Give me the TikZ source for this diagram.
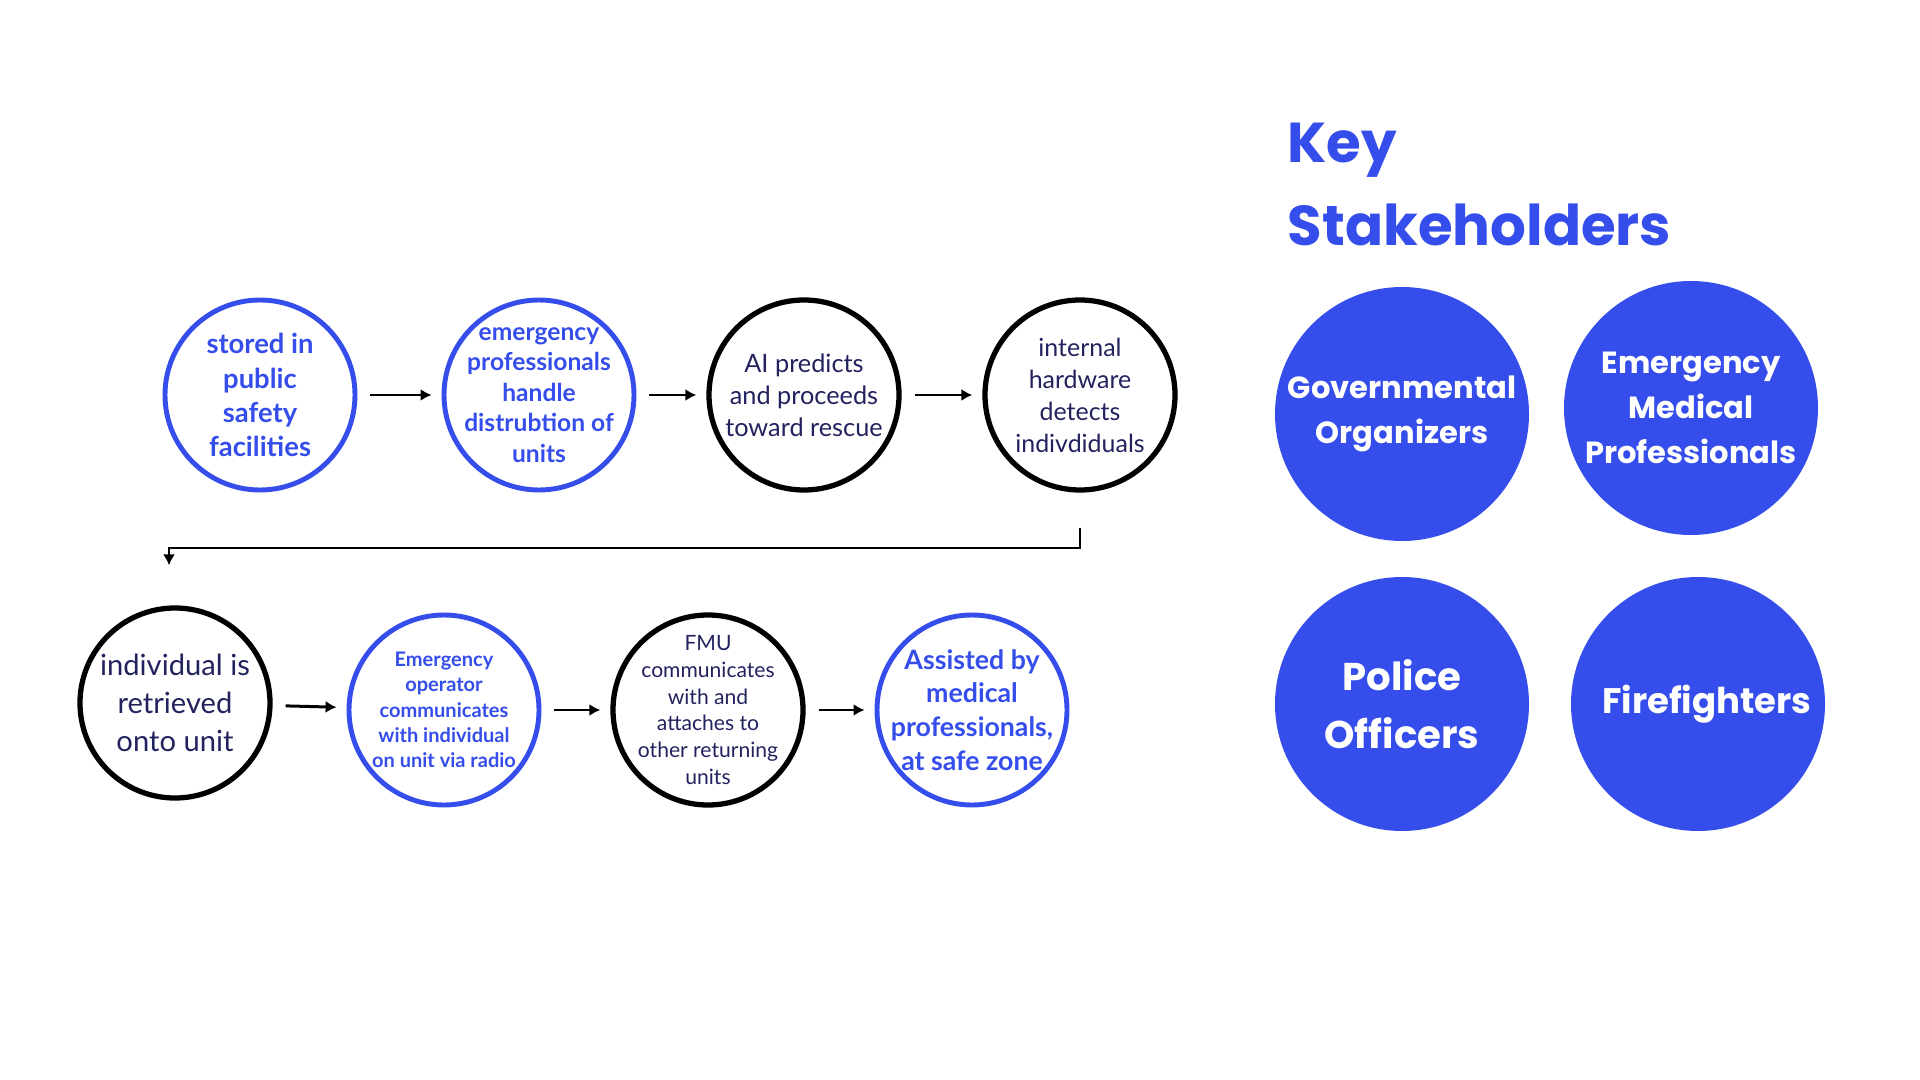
\documentclass[tikz,border=0pt]{standalone}
\usepackage{fontspec}
\setmainfont{Lato}
\newfontfamily\keyfont{Poppins}
\usetikzlibrary{arrows.meta}
\definecolor{keyblue}{HTML}{354EEB}
\definecolor{inkblue}{HTML}{22225E}
\tikzset{stepblue/.style={circle, draw=keyblue, line width=1.4pt, minimum size=1.9cm, inner sep=-5mm, align=center, text=keyblue}}
\tikzset{stepblack/.style={circle, draw=black, line width=1.5pt, minimum size=1.9cm, inner sep=-5mm, align=center, text=inkblue}}
\tikzset{holder/.style={circle, fill=keyblue, minimum size=2.54cm, inner sep=-6mm, align=center, text=white}}
\tikzset{flow/.style={-{Latex[length=1.1mm,width=1.2mm]}, line width=0.85pt, shorten <=1.3mm, shorten >=1mm}}
\newcommand{\fsz}[2]{\fontsize{#1}{#2}\selectfont}

\begin{document}
\begin{tikzpicture}
\useasboundingbox (0,0) rectangle (19.2,-10.8);
% top row
\node[stepblue, font=\bfseries\fsz{7.8}{9.7}] (store) at (2.60,-3.95) {stored in\\public\\safety\\facilities};
\node[stepblue, font=\bfseries\fsz{7}{8.7}] (handle) at (5.39,-3.95) {emergency\\professionals\\handle\\distrubtion of\\units};
\node[stepblack, font=\fsz{7.2}{9.1}] (predict) at (8.04,-3.95) {AI predicts\\and proceeds\\toward rescue};
\node[stepblack, font=\fsz{7.1}{9.1}] (detect) at (10.80,-3.95) {internal\\hardware\\detects\\indivdiduals};
\draw[flow] (store) -- (handle);
\draw[flow] (handle) -- (predict);
\draw[flow] (predict) -- (detect);
% bottom row
\node[stepblack, font=\fsz{8.3}{10.8}] (retrieve) at (1.75,-7.03) {individual is\\retrieved\\onto unit};
\node[stepblue, font=\bfseries\fsz{5.7}{7.2}] (radio) at (4.44,-7.10) {Emergency\\operator\\communicates\\with individual\\on unit via radio};
\node[stepblack, font=\fsz{6}{7.6}] (attach) at (7.08,-7.10) {FMU\\communicates\\with and\\attaches to\\other returning\\units};
\node[stepblue, font=\bfseries\fsz{7.6}{9.6}] (safe) at (9.72,-7.10) {Assisted by\\medical\\professionals,\\at safe zone};
\draw[flow] (retrieve) -- (radio);
\draw[flow] (radio) -- (attach);
\draw[flow] (attach) -- (safe);
\draw[flow, line width=0.6pt, shorten <=3.5mm, shorten >=4mm] (detect.south) -- ++(0,-0.55) -| ([xshift=-0.6mm]retrieve.north);
% stakeholders
\node[anchor=north west, inner sep=0pt, align=left, text=keyblue, font=\keyfont\bfseries\fsz{16}{23.6}] (title) at (12.87,-1.22) {Key\\Stakeholders};
\node[holder, font=\keyfont\bfseries\fsz{8.7}{12.8}] (gov) at (14.02,-4.14) {Governmental\\Organizers};
\node[holder, font=\keyfont\bfseries\fsz{8.7}{12.8}] (medic) at (16.91,-4.08) {Emergency\\Medical\\Professionals};
\node[holder, font=\keyfont\bfseries\fsz{11}{16.4}] (police) at (14.02,-7.04) {Police\\Officers};
\node[holder, font=\keyfont\bfseries\fsz{10.1}{14}] (fire) at (16.98,-7.04) {\hspace*{1.8mm}Firefighters};
\end{tikzpicture}
\end{document}
